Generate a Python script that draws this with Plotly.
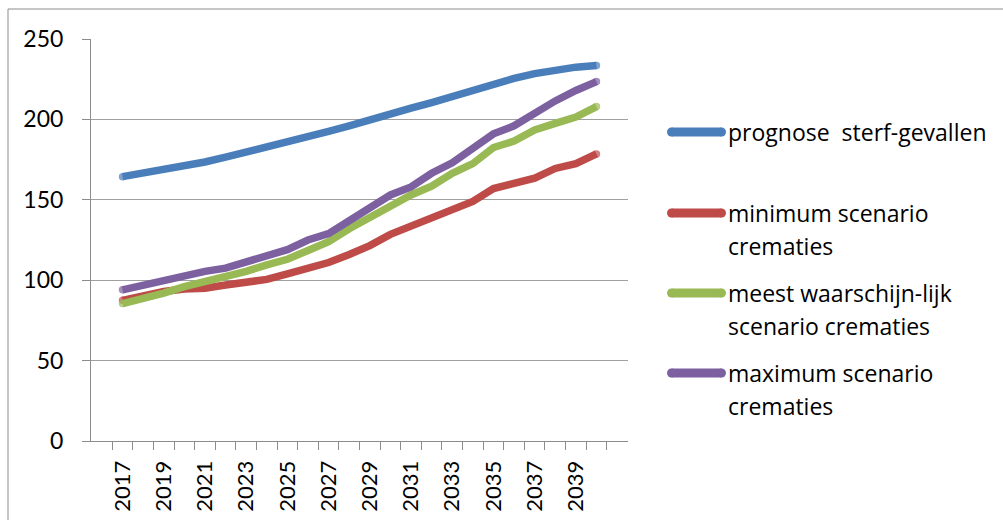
import plotly.graph_objects as go

years = [str(y) for y in range(2017, 2041)]
tick_labels = [y if (int(y) - 2017) % 2 == 0 else "" for y in years]

prognose = [164.4, 166.5, 168.5, 170.5, 173.5, 176.5, 179.5, 182.5, 185.5, 189.0, 192.5, 196.0,
            200.0, 203.5, 207.0, 210.5, 214.5, 218.0, 222.0, 225.5, 228.5, 231.0, 232.5, 233.5]
minimum = [87.5, 90.5, 93.0, 94.5, 95.0, 97.0, 99.0, 100.5, 104.0, 107.5, 111.0, 116.0,
           121.5, 128.5, 133.5, 139.0, 144.5, 149.0, 157.0, 160.0, 163.5, 169.5, 172.5, 178.5]
meest = [85.5, 88.5, 92.0, 96.0, 99.0, 101.5, 105.5, 109.5, 113.0, 118.5, 124.0, 132.0,
         139.0, 146.5, 153.0, 158.5, 166.5, 172.5, 182.5, 186.5, 193.5, 197.5, 201.5, 208.0]
maximum = [94.0, 97.0, 100.5, 103.0, 105.5, 107.5, 111.0, 115.0, 119.0, 125.0, 129.0, 137.0,
           145.0, 153.0, 158.0, 166.5, 173.0, 182.0, 191.0, 196.0, 204.0, 211.5, 218.0, 223.5]

names = ["prognose  sterf-gevallen", "minimum scenario<br>crematies",
         "meest waarschijn-lijk<br>scenario crematies", "maximum scenario<br>crematies"]
colors = ["#4A7EBB", "#BE4B48", "#98B954", "#7D60A0"]
series = [prognose, minimum, meest, maximum]

FONT = "Lato"
LEG_FONT = "Open Sans"
W, H = 1003, 520
L, R, T, B = 91, 628, 39, 441

def px(x):
    return (x - L) / (R - L)

def py(y):
    return (B - y) / (B - T)

fig = go.Figure()
n = len(years)
for name, col, vals in zip(names, colors, series):
    sizes = [7.5] + [0] * (n - 2) + [7.5]
    fig.add_trace(go.Scatter(
        x=years, y=vals, name=name, mode="lines+markers",
        line=dict(color=col, width=7.5),
        marker=dict(size=sizes, color=col, line=dict(width=0)),
        showlegend=False, hoverinfo="x+y",
    ))

shapes = []
annotations = []
# outer chart border
shapes.append(dict(type="rect", xref="paper", yref="paper",
                   x0=px(8), x1=px(1010), y0=py(530), y1=py(9),
                   line=dict(color="#8C8C8C", width=1), layer="below"))

leg_y = [132, 213, 293, 373]
for name, col, yy in zip(names, colors, leg_y):
    shapes.append(dict(type="line", xref="paper", yref="paper",
                       x0=px(671.5), x1=px(721.5), y0=py(yy), y1=py(yy),
                       line=dict(color=col, width=9)))
    for cx in (671.5, 721.5):
        shapes.append(dict(type="circle", xref="paper", yref="paper",
                           x0=px(cx - 4.5), x1=px(cx + 4.5), y0=py(yy + 4.5), y1=py(yy - 4.5),
                           fillcolor=col, line=dict(width=0)))
    for k, line in enumerate(name.split("<br>")):
        annotations.append(dict(text=line, xref="paper", yref="paper",
                                x=px(727), y=py(yy + 33 * k), xanchor="left", yanchor="middle",
                                showarrow=False, borderpad=0,
                                font=dict(family=LEG_FONT, size=23, color="#000000")))

fig.update_layout(
    width=W, height=H,
    margin=dict(l=L, r=W - R, t=T, b=H - B, pad=0, autoexpand=False),
    paper_bgcolor="white", plot_bgcolor="white",
    font=dict(family=FONT, size=22, color="#000000"),
    shapes=shapes, annotations=annotations,
    showlegend=False,
)
fig.update_xaxes(
    type="category", tickmode="array", tickvals=years, ticktext=tick_labels,
    tickson="boundaries", ticks="outside", ticklen=8, tickcolor="#8C8C8C", tickwidth=1,
    tickangle=-90, showline=True, linecolor="#8C8C8C", linewidth=1,
    showgrid=False, zeroline=False, tickfont=dict(family=FONT, size=22),
    ticklabelstandoff=10, automargin=False,
)
fig.update_yaxes(
    range=[0, 250], tickmode="linear", tick0=0, dtick=50,
    ticks="outside", ticklen=8, tickcolor="#8C8C8C", tickwidth=1,
    showline=True, linecolor="#8C8C8C", linewidth=1,
    showgrid=True, gridcolor="#A0A0A0", gridwidth=1, zeroline=False,
    tickfont=dict(family=FONT, size=23), ticklabelstandoff=14, automargin=False,
)

fig.write_html("out.html", config={"displayModeBar": False},
               post_script="document.body.style.margin='0px';document.body.style.padding='0px';")
